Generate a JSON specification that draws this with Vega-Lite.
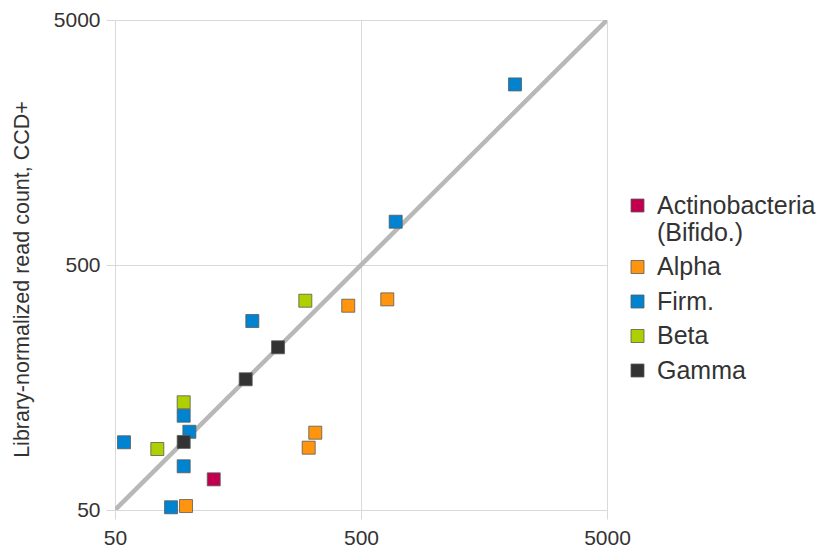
{
  "$schema": "https://vega.github.io/schema/vega-lite/v6.json",
  "width": 492,
  "height": 490,
  "autosize": {"type": "none"},
  "padding": {"left": 115, "top": 20, "right": 209, "bottom": 46},
  "background": "white",
  "config": {
    "view": {"stroke": null},
    "font": "Liberation Sans",
    "axis": {
      "grid": true,
      "gridColor": "#d9d9d9",
      "gridWidth": 1,
      "domain": false,
      "tickColor": "#d9d9d9",
      "tickSize": 9,
      "labelFlush": false,
      "labelFont": "Liberation Sans",
      "labelFontSize": 21,
      "labelColor": "#333333",
      "titleFont": "Liberation Sans",
      "titleFontWeight": "normal",
      "titleColor": "#333333"
    }
  },
  "datasets": {
    "diag": [{"x": 50, "y": 50}, {"x": 5000, "y": 5000}],
    "pts": [
      {"group": "Actinobacteria (Bifido.)", "x": 126, "y": 66.7},
      {"group": "Alpha", "x": 97.2, "y": 51.9},
      {"group": "Alpha", "x": 443.7, "y": 341},
      {"group": "Alpha", "x": 639.5, "y": 362},
      {"group": "Alpha", "x": 325.9, "y": 103.4},
      {"group": "Alpha", "x": 306.4, "y": 89.8},
      {"group": "Firm.", "x": 54.4, "y": 94.5},
      {"group": "Firm.", "x": 100.3, "y": 104.3},
      {"group": "Firm.", "x": 95.1, "y": 121.3},
      {"group": "Firm.", "x": 95.1, "y": 75.4},
      {"group": "Firm.", "x": 84.5, "y": 51.3},
      {"group": "Firm.", "x": 180.8, "y": 295.3},
      {"group": "Firm.", "x": 691.7, "y": 751},
      {"group": "Firm.", "x": 2113, "y": 2729},
      {"group": "Beta", "x": 74.3, "y": 88.7},
      {"group": "Beta", "x": 95.1, "y": 137.6},
      {"group": "Beta", "x": 296.9, "y": 357.4},
      {"group": "Gamma", "x": 95.1, "y": 94.8},
      {"group": "Gamma", "x": 169.9, "y": 170.8},
      {"group": "Gamma", "x": 230, "y": 230.7}
    ]
  },
  "layer": [
    {
      "data": {"name": "diag"},
      "mark": {"type": "line", "color": "#b8b8b8", "strokeWidth": 4.5, "clip": true},
      "encoding": {
        "x": {"field": "x", "type": "quantitative", "scale": {"type": "log", "domain": [50, 5000], "nice": false},
          "axis": {"values": [50, 500, 5000], "title": null, "labelPadding": 8, "format": "d"}},
        "y": {"field": "y", "type": "quantitative", "scale": {"type": "log", "domain": [50, 5000], "nice": false},
          "axis": {"values": [50, 500, 5000], "title": "Library-normalized read count, CCD+", "titleFontSize": 21.5, "titlePadding": 20, "titleY": 259, "labelPadding": 6, "format": "d"}}
      }
    },
    {
      "data": {"name": "pts"},
      "mark": {"type": "square", "size": 169, "filled": true, "opacity": 1, "stroke": "#5a5a5a", "strokeWidth": 0.8},
      "encoding": {
        "x": {"field": "x", "type": "quantitative"},
        "y": {"field": "y", "type": "quantitative"},
        "color": {
          "field": "group", "type": "nominal",
          "scale": {
            "domain": ["Actinobacteria (Bifido.)", "Alpha", "Firm.", "Beta", "Gamma"],
            "range": ["#c0004e", "#ff950e", "#0084d1", "#aecf00", "#333333"]
          },
          "legend": {
            "title": null,
            "orient": "none",
            "legendX": 510,
            "legendY": 173,
            "padding": 0,
            "symbolType": "square",
            "symbolSize": 169,
            "symbolStrokeColor": "#5a5a5a",
            "symbolStrokeWidth": 0.8,
            "labelFont": "Liberation Sans",
            "labelFontSize": 25,
            "labelColor": "#333333",
            "labelOffset": 7,
            "labelLimit": 300,
            "rowPadding": 8.5,
            "labelExpr": "datum.label == 'Actinobacteria (Bifido.)' ? ['Actinobacteria', '(Bifido.)'] : datum.label"
          }
        }
      }
    }
  ]
}
